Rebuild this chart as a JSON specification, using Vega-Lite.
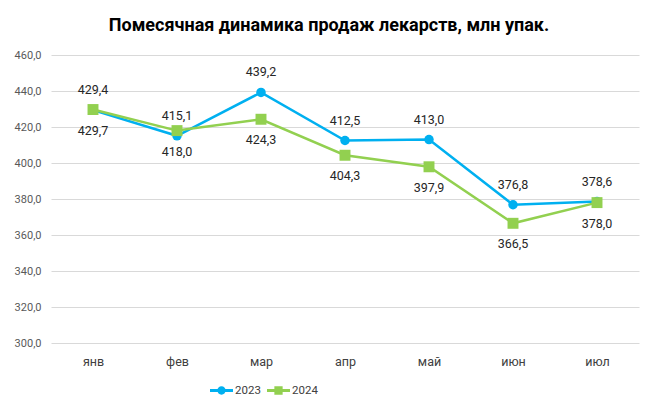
{
  "$schema": "https://vega.github.io/schema/vega-lite/v6.json",
  "width": 588,
  "height": 288,
  "autosize": {"type": "none"},
  "padding": {"left": 51, "top": 55, "right": 19, "bottom": 74},
  "background": "white",
  "title": {
    "text": "Помесячная динамика продаж  лекарств, млн упак.",
    "font": "Roboto",
    "fontSize": 18,
    "fontWeight": "bold",
    "color": "#000000",
    "anchor": "middle",
    "frame": "group",
    "offset": 14,
    "dx": -16
  },
  "config": {
    "locale": {"number": {"decimal": ",", "thousands": " ", "grouping": [3], "currency": ["", ""]}},
    "view": {"stroke": null},
    "font": "Roboto"
  },
  "data": {
    "values": [
      {"month": "янв", "series": "2023", "value": 429.4},
      {"month": "фев", "series": "2023", "value": 415.1},
      {"month": "мар", "series": "2023", "value": 439.2},
      {"month": "апр", "series": "2023", "value": 412.5},
      {"month": "май", "series": "2023", "value": 413.0},
      {"month": "июн", "series": "2023", "value": 376.8},
      {"month": "июл", "series": "2023", "value": 378.6},
      {"month": "янв", "series": "2024", "value": 429.7},
      {"month": "фев", "series": "2024", "value": 418.0},
      {"month": "мар", "series": "2024", "value": 424.3},
      {"month": "апр", "series": "2024", "value": 404.3},
      {"month": "май", "series": "2024", "value": 397.9},
      {"month": "июн", "series": "2024", "value": 366.5},
      {"month": "июл", "series": "2024", "value": 378.0}
    ]
  },
  "encoding": {
    "x": {
      "field": "month",
      "type": "ordinal",
      "sort": ["янв", "фев", "мар", "апр", "май", "июн", "июл"],
      "scale": {"type": "point", "padding": 0.5},
      "axis": {
        "title": null,
        "domain": false,
        "ticks": false,
        "labelAngle": 0,
        "labelFont": "Roboto",
        "labelFontSize": 12.5,
        "labelColor": "#404040",
        "labelPadding": 12,
        "grid": false
      }
    },
    "y": {
      "field": "value",
      "type": "quantitative",
      "scale": {"domain": [300, 460], "nice": false, "zero": false},
      "axis": {
        "title": null,
        "domain": false,
        "ticks": false,
        "values": [300, 320, 340, 360, 380, 400, 420, 440, 460],
        "format": ".1f",
        "labelFont": "Roboto",
        "labelFontSize": 11,
        "labelColor": "#595959",
        "labelPadding": 10,
        "gridColor": "#d9d9d9",
        "gridWidth": 1
      }
    }
  },
  "layer": [
    {
      "mark": {"type": "point", "filled": true, "strokeWidth": 0, "opacity": 0},
      "encoding": {
        "color": {
          "field": "series",
          "type": "nominal",
          "scale": {"domain": ["2023", "2024"], "range": ["#00B0F0", "#92D050"]},
          "legend": {
            "title": null,
            "orient": "none",
            "legendX": 159,
            "legendY": 324,
            "direction": "horizontal",
            "padding": 0,
            "symbolSize": 529,
            "symbolStrokeWidth": 0,
            "labelFont": "Roboto",
            "labelFontSize": 11.5,
            "labelColor": "#404040",
            "labelOffset": 2,
            "columnPadding": 6,
            "encode": {"symbols": {"update": {"opacity": {"value": 1}, "size": {"value": 529}}}}
          }
        },
        "shape": {
          "field": "series",
          "type": "nominal",
          "scale": {
            "domain": ["2023", "2024"],
            "range": [
              "M-1,-0.13L1,-0.13L1,0.13L-1,0.13Z M-0.36,0A0.36,0.36 0 1,1 0.36,0A0.36,0.36 0 1,1 -0.36,0Z",
              "M-1,-0.13L1,-0.13L1,0.13L-1,0.13Z M-0.36,-0.36L0.36,-0.36L0.36,0.36L-0.36,0.36Z"
            ]
          },
          "legend": {
            "title": null,
            "orient": "none",
            "legendX": 159,
            "legendY": 324,
            "direction": "horizontal",
            "padding": 0,
            "symbolSize": 529,
            "symbolStrokeWidth": 0,
            "labelFont": "Roboto",
            "labelFontSize": 11.5,
            "labelColor": "#404040",
            "labelOffset": 2,
            "columnPadding": 6,
            "encode": {"symbols": {"update": {"opacity": {"value": 1}, "size": {"value": 529}}}}
          }
        }
      }
    },
    {
      "mark": {"type": "line", "strokeWidth": 2.5},
      "encoding": {
        "color": {"field": "series", "type": "nominal"}
      }
    },
    {
      "transform": [{"filter": "datum.series == '2023'"}],
      "mark": {"type": "point", "shape": "circle", "filled": true, "opacity": 1, "size": 90, "strokeWidth": 0},
      "encoding": {
        "color": {"field": "series", "type": "nominal"}
      }
    },
    {
      "transform": [{"filter": "datum.series == '2024'"}],
      "mark": {"type": "point", "shape": "square", "filled": true, "opacity": 1, "size": 120, "strokeWidth": 0},
      "encoding": {
        "color": {"field": "series", "type": "nominal"}
      }
    },
    {
      "transform": [{"filter": "datum.series == '2023'"}],
      "mark": {"type": "text", "dy": -20, "font": "Roboto", "fontSize": 12.5, "color": "#262626"},
      "encoding": {"text": {"field": "value", "type": "quantitative", "format": ".1f"}}
    },
    {
      "transform": [{"filter": "datum.series == '2024'"}],
      "mark": {"type": "text", "dy": 21, "font": "Roboto", "fontSize": 12.5, "color": "#262626"},
      "encoding": {"text": {"field": "value", "type": "quantitative", "format": ".1f"}}
    }
  ]
}
